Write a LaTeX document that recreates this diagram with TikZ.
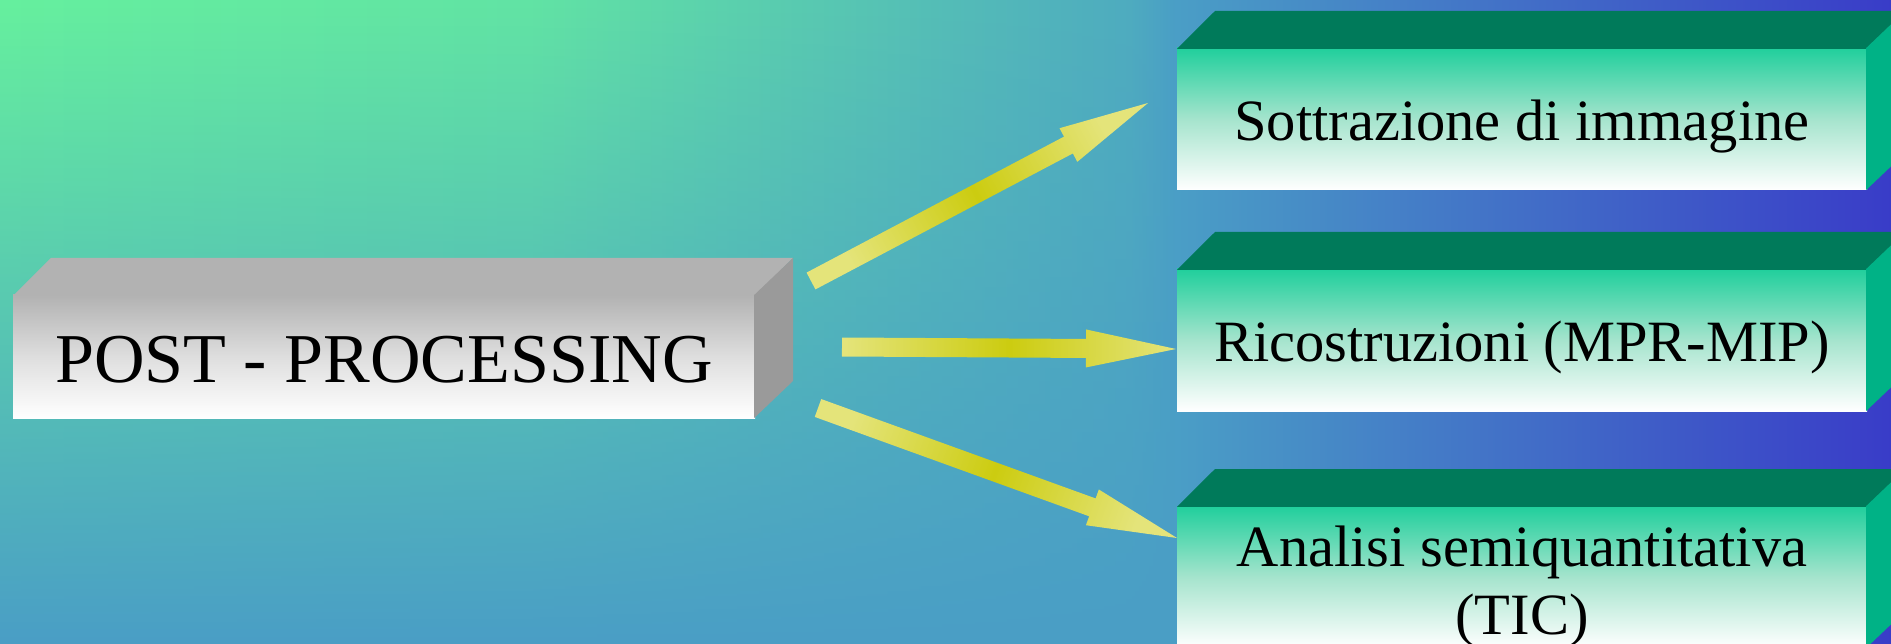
\documentclass[tikz,border=0pt]{standalone}
\usepackage{fontspec}
\setmainfont{Liberation Serif}
\usetikzlibrary{calc,fadings}

% background gradient colours
\definecolor{bgA}{RGB}{102,240,158}
\definecolor{bgB}{RGB}{74,158,198}
\definecolor{bgC}{RGB}{57,60,200}
\colorlet{bgH1}{bgA!85!bgB}
\colorlet{bgH2}{bgA!17!bgB}
% box colours
\definecolor{tealTop}{RGB}{0,122,90}
\definecolor{tealSide}{RGB}{0,178,134}
\definecolor{tealFront}{RGB}{32,207,156}
\definecolor{tealMid}{RGB}{165,228,205}
\definecolor{greyTop}{RGB}{178,178,178}
\definecolor{greySide}{RGB}{154,154,154}
\definecolor{greyMid}{RGB}{222,222,222}
% arrow colours
\definecolor{arrowLight}{RGB}{228,228,122}
\definecolor{arrowDark}{RGB}{204,204,16}

% transparent at the top, opaque at the bottom
\tikzfading[name=fadeup, top color=transparent!100, bottom color=transparent!0]

% block arrow geometry
\newcommand\bkShaft{9.5pt}
\newcommand\bkHead{19pt}
\newcommand\bkHeadLen{90pt}

% wide shaded block arrow from #1 to #2, shading turned by #3
\newcommand\blockarrow[3]{%
  \coordinate (#1-#2) at ($(#2)!\bkHeadLen!(#1)$);
  \shade[arrowshade, shading angle=#3]
    ($(#1)!\bkShaft!90:(#2)$)
    -- ($(#1-#2)!\bkShaft!90:(#2)$)
    -- ($(#1-#2)!\bkHead!90:(#2)$)
    -- (#2)
    -- ($(#1-#2)!\bkHead!-90:(#2)$)
    -- ($(#1-#2)!\bkShaft!-90:(#2)$)
    -- ($(#1)!\bkShaft!-90:(#2)$)
    -- cycle;
}

% top and right faces of a slab whose front face is node #1
\newcommand\slabfaces[3]{%
  \fill[#2] ([yshift=-0.8pt]#1.north west) -- ++(38,-37.8)
    -- ([shift={(38,-37)}]#1.north east) -- ([yshift=-0.8pt]#1.north east) -- cycle;
  \fill[#3] ([xshift=-0.8pt]#1.north east) -- ++(38.8,-37)
    -- ([shift={(38,-37)}]#1.south east) -- ([xshift=-0.8pt]#1.south east) -- cycle;
}

\tikzset{
  tealfront/.style={rectangle, inner sep=0pt, outer sep=0pt,
    minimum width=690pt, minimum height=142pt,
    top color=tealFront, bottom color=white, middle color=tealMid},
  greyfront/.style={rectangle, inner sep=0pt, outer sep=0pt,
    minimum width=742pt, minimum height=123pt,
    top color=greyTop, bottom color=white, middle color=greyMid},
  boxtext/.style={font=\fontsize{58.5pt}{68pt}\selectfont, inner sep=0pt, text=black},
  posttext/.style={font=\fontsize{70pt}{84pt}\selectfont, inner sep=0pt, text=black},
  arrowshade/.style={left color=arrowLight, right color=arrowLight, middle color=arrowDark},
}

\begin{document}
\begin{tikzpicture}[x=1pt, y=-1pt]
\useasboundingbox (0,0) rectangle (1891,644);
\clip (0,0) rectangle (1891,644);

% background: colour along the top edge
\shade[left color=bgA, right color=bgH1] (-1,-1) rectangle (531,645);
\shade[left color=bgH1, right color=bgH2] (530,-1) rectangle (1131,645);
\shade[left color=bgH2, right color=bgB] (1130,-1) rectangle (1178,645);
\shade[left color=bgB, right color=bgC] (1177,-1) rectangle (1892,645);
% background: blend towards the blue at the bottom
\fill[bgB, path fading=fadeup] (-1,0) rectangle (1177.5,644);

% grey slab
\node[greyfront] (post) at (384,356.5) {};
\slabfaces{post}{greyTop}{greySide}
\node[posttext, anchor=base] (posttxt) at ($(post.center)+(0,26)$) {POST - PROCESSING};

% green slabs
\node[tealfront] (sub) at (1522,119) {};
\slabfaces{sub}{tealTop}{tealSide}
\node[boxtext, anchor=base] (subtxt) at ($(sub.center)+(0,22)$) {Sottrazione di immagine};

\node[tealfront] (rec) at (1522,340) {};
\slabfaces{rec}{tealTop}{tealSide}
\node[boxtext, anchor=base] (rectxt) at ($(rec.center)+(0,22)$) {Ricostruzioni (MPR-MIP)};

\node[tealfront] (tic) at (1522,577) {};
\slabfaces{tic}{tealTop}{tealSide}
\node[boxtext, align=center, anchor=base] (tictxt) at ($(tic.center)+(0,57)$) {Analisi semiquantitativa\\(TIC)};

% arrows
\coordinate (a1t) at (811,281);  \coordinate (a1h) at (1148,103);
\coordinate (a2t) at (842,347);  \coordinate (a2h) at (1176,349);
\coordinate (a3t) at (818,408);  \coordinate (a3h) at (1177,538);
\blockarrow{a1t}{a1h}{117.8}
\blockarrow{a2t}{a2h}{89.7}
\blockarrow{a3t}{a3h}{70.1}
\end{tikzpicture}
\end{document}
